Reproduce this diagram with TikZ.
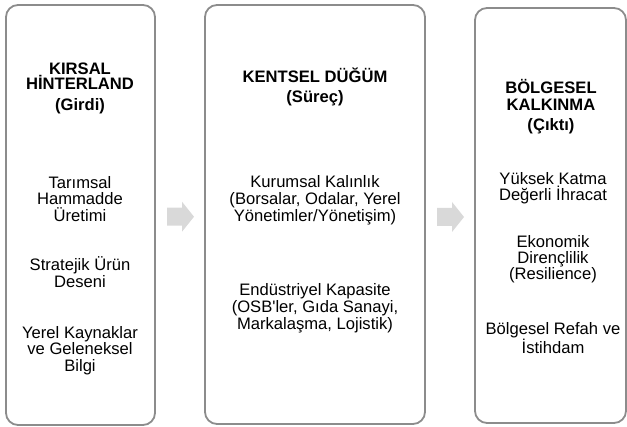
\documentclass[tikz,border=0pt]{standalone}
\usepackage{fontspec}
\setmainfont{Liberation Sans}[Ligatures=TeXOff]
\usetikzlibrary{calc}
\definecolor{panelline}{HTML}{8C8C8C}
\definecolor{arrowfill}{HTML}{D9D9D9}
\begin{document}
\begin{tikzpicture}[x=1pt,y=-1pt,
  panel/.style={draw=panelline, line width=1.8pt, rounded corners=12pt, fill=white},
  ttl/.style={font=\fontsize{16.6}{15}\selectfont\bfseries, align=center, inner sep=0pt, anchor=base},
  ttlb/.style={font=\fontsize{16.6}{17}\selectfont\bfseries, align=center, inner sep=0pt, anchor=base},
  itm/.style={font=\fontsize{16.6}{16.7}\selectfont, align=center, inner sep=0pt, anchor=base},
  itmb/.style={font=\fontsize{16.6}{17}\selectfont, align=center, inner sep=0pt, anchor=base},
  itmc/.style={font=\fontsize{16.6}{16}\selectfont, align=center, inner sep=0pt, anchor=base},
  flowarrow/.style={fill=arrowfill}]
\useasboundingbox (0,0) rectangle (627,427);
% panels
\node[panel, minimum width=149pt, minimum height=420pt] (p1) at (80.5,215) {};
\node[panel, minimum width=220pt, minimum height=419pt] (p2) at (315,214.5) {};
\node[panel, minimum width=151pt, minimum height=415pt] (p3) at (550.5,215.5) {};
% panel 1 (base anchor = last line's baseline)
\node[ttl] (t1) at (80,90) {KIRSAL\\HİNTERLAND};
\node[ttl] (s1) at (80,111) {(Girdi)};
\node[itm] (a1) at (80,221.5) {Tarımsal\\Hammadde\\Üretimi};
\node[itm] (a2) at (80,287.7) {Stratejik Ürün\\Deseni};
\node[itm] (a3) at (80,371.5) {Yerel Kaynaklar\\ve Geleneksel\\Bilgi};
% panel 2
\node[ttl] (t2) at (315,83) {KENTSEL DÜĞÜM};
\node[ttl] (s2) at (315,103) {(Süreç)};
\node[itmb] (b1) at (315,222) {Kurumsal Kalınlık\\(Borsalar, Odalar, Yerel\\Yönetimler/Yönetişim)};
\node[itmb] (b2) at (315,329.5) {Endüstriyel Kapasite\\(OSB'ler, Gıda Sanayi,\\Markalaşma, Lojistik)};
% panel 3
\node[ttlb] (t3) at (551,111) {BÖLGESEL\\KALKINMA};
\node[ttl] (s3) at (551,131) {(Çıktı)};
\node[itmc] (c1) at (553,201) {Yüksek Katma\\Değerli İhracat};
\node[itmc] (c2) at (553,280) {Ekonomik\\Dirençlilik\\(Resilience)};
\node[itmc] (c3) at (553,353.5) {Bölgesel Refah ve\\İstihdam};
% arrows
\coordinate (m1) at ($(p1.east)!0.5!(p2.west)+(0,2)$);
\coordinate (m2) at ($(p2.east)!0.5!(p3.west)+(0,2)$);
\foreach \m in {m1,m2}{
  \fill[flowarrow] ($(\m)+(-13,-9)$) -- ($(\m)+(2,-9)$) -- ($(\m)+(2,-15)$) -- ($(\m)+(14,0)$)
    -- ($(\m)+(2,15)$) -- ($(\m)+(2,9)$) -- ($(\m)+(-13,9)$) -- cycle;
}
\end{tikzpicture}
\end{document}
